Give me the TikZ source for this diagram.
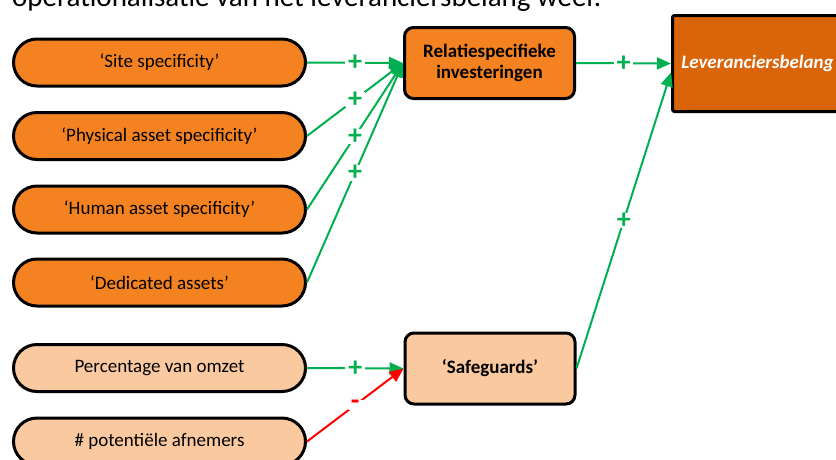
\documentclass[tikz,border=0pt]{standalone}
\usepackage{fontspec}
\setmainfont{Carlito}
\usetikzlibrary{arrows.meta}
\definecolor{orangefill}{RGB}{245,130,32}
\definecolor{peach}{RGB}{250,201,160}
\definecolor{darkorange}{RGB}{218,100,10}
\definecolor{posgreen}{RGB}{0,176,80}
\definecolor{negred}{RGB}{255,0,0}
\begin{document}
\begin{tikzpicture}[x=1pt,y=-1pt,
  pill/.style={draw=black, line width=3pt, rounded corners=23.5pt,
    minimum width=292pt, minimum height=47pt, inner sep=0pt,
    font=\fontsize{19}{23}\selectfont},
  factor/.style={pill, fill=orangefill},
  safefactor/.style={pill, fill=peach},
  block/.style={draw=black, line width=3pt, rounded corners=9pt,
    minimum width=170pt, minimum height=71pt, inner sep=0pt, align=center,
    font=\bfseries\fontsize{19}{23}\selectfont},
  target/.style={draw=black, line width=3pt, rounded corners=2pt,
    fill=darkorange, minimum width=170pt, minimum height=96pt,
    text=white, font=\bfseries\itshape\fontsize{19}{23}\selectfont},
  link/.style={draw=posgreen, line width=2pt, -{Triangle[length=14pt,width=12pt]}},
  neglink/.style={link, draw=negred},
  sign/.style={fill=white, inner xsep=3pt, inner ysep=0pt, text=posgreen,
    font=\bfseries\fontsize{28}{28}\selectfont},
  negsign/.style={sign, text=negred},
]
\useasboundingbox (0,0) rectangle (836,459);
\clip (0,0) rectangle (836,459);

% caption line above the model
\node[anchor=base west, inner sep=0pt, font=\fontsize{29}{34}\selectfont] (intro) at (12,6)
  {operationalisatie van het leveranciersbelang weer.};

% determinants
\node[factor] (site) at (159.5,62.5) {‘Site specificity’};
\node[factor] (phys) at (159.5,136) {‘Physical asset specificity’};
\node[factor] (human) at (159.5,209.5) {‘Human asset specificity’};
\node[factor] (ded) at (159.5,282.5) {‘Dedicated assets’};
\node[safefactor] (pct) at (159.5,368) {Percentage van omzet};
\node[safefactor] (buyers) at (159.5,441.5) {\# potentiële afnemers};

% intermediate constructs
\node[block, fill=orangefill] (rel) at (489.5,63) {\raisebox{-2pt}{\shortstack{Relatiespecifieke\\[1pt]investeringen}}};
\node[block, fill=peach] (safe) at (490,368.5) {‘Safeguards’};

% dependent construct
\node[target] (lev) at (757.5,63.5) {Leveranciersbelang};
\coordinate (levin) at ([yshift=-9pt]lev.west);

% relations
\draw[link] (site.east) -- node[sign] {+} (rel.west);
\draw[link] (phys.east) -- node[sign] {+} (rel.west);
\draw[link] (human.east) -- node[sign] {+} (rel.west);
\draw[link] (ded.east) -- node[sign] {+} (rel.west);
\draw[link] (pct.east) -- node[sign] {+} (safe.west);
\draw[neglink] (buyers.east) -- node[negsign] {-} (safe.west);
\draw[link] (rel.east) -- node[sign] {+} (lev.west);
\draw[link] (safe.east) -- node[sign] {+} (levin);
\end{tikzpicture}
\end{document}
